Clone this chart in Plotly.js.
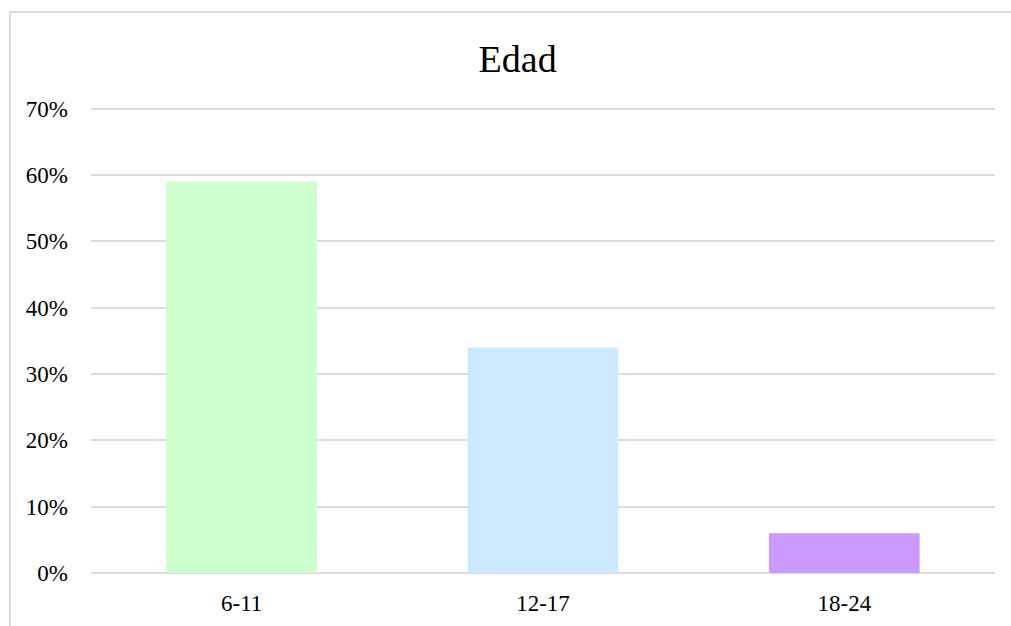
<!DOCTYPE html>
<html>
<head>
<meta charset="utf-8">
<script src="https://cdn.plot.ly/plotly-3.0.1.min.js"></script>
<style>
html,body{margin:0;padding:0;background:#fff;}
#wrap{position:relative;width:1011px;height:626px;overflow:hidden;}
#frame{position:absolute;left:9px;top:11px;width:1020px;height:640px;border:2px solid #d9d9d9;box-sizing:border-box;pointer-events:none;}
#chart{position:absolute;left:0;top:0;width:1011px;height:626px;}
</style>
</head>
<body>
<div id="wrap"><div id="chart"></div><div id="frame"></div></div>
<script>
const categories = ["6-11", "12-17", "18-24"];
const values = [0.59, 0.34, 0.06];
const barColors = ["#ccffcc", "#cceaff", "#cc99ff"];
const yTickVals = [0, 0.1, 0.2, 0.3, 0.4, 0.5, 0.6, 0.7];
const yTickText = ["0%", "10%", "20%", "30%", "40%", "50%", "60%", "70%"];
const chartTitle = "Edad";

const font = "Liberation Serif, Times New Roman, serif";
Plotly.newPlot("chart", [{
  type: "bar",
  x: categories,
  y: values,
  marker: {color: barColors, line: {width: 0}},
  hoverinfo: "none"
}], {
  width: 1011, height: 626,
  margin: {l: 91, r: 16, t: 102, b: 53},
  paper_bgcolor: "#fff", plot_bgcolor: "#fff",
  bargap: 0.5,
  showlegend: false,
  title: {text: chartTitle, font: {family: font, size: 38, color: "#000"}, x: 0.512, xanchor: "center", y: 0.907, yanchor: "middle"},
  xaxis: {
    type: "category",
    tickfont: {family: font, size: 23, color: "#000"},
    showgrid: false, zeroline: false, showline: false,
    ticks: "", ticklabelstandoff: 14
  },
  yaxis: {
    range: [0, 0.71],
    tickvals: yTickVals, ticktext: yTickText,
    tickfont: {family: font, size: 23, color: "#000"},
    showgrid: true, gridcolor: "#dcdcdc", gridwidth: 2,
    zeroline: true, zerolinecolor: "#dcdcdc", zerolinewidth: 2,
    showline: false, ticks: "", ticklabelstandoff: 22
  }
}, {displayModeBar: false, staticPlot: true});
</script>
</body>
</html>
